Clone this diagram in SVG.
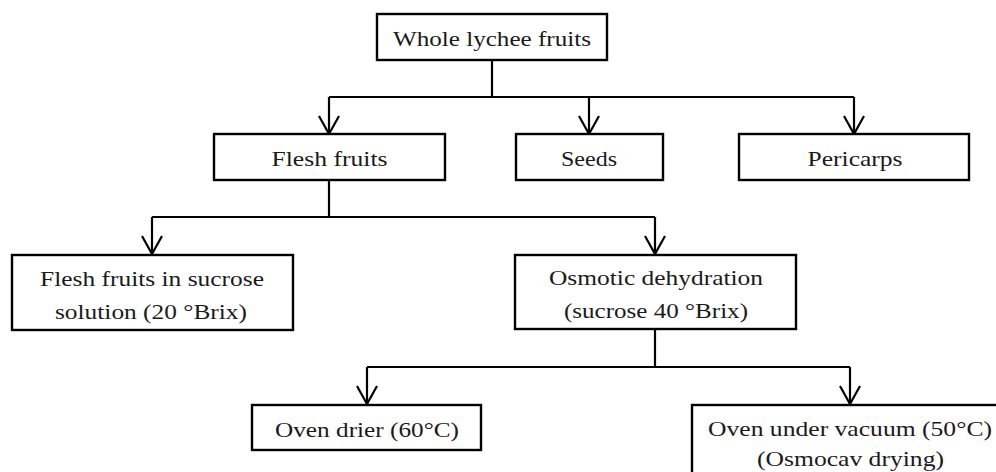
<svg xmlns="http://www.w3.org/2000/svg" width="996" height="472" viewBox="0 0 996 472">
<style>
  .box { fill: #ffffff; stroke: #000000; stroke-width: 2.4; }
  .lbl { font-family: 'Liberation Serif', 'DejaVu Serif', serif; font-size: 22px; fill: #1a1a1a; text-anchor: middle; }
  .con { fill: none; stroke: #000000; stroke-width: 2.2; }
</style>
<defs>
  <marker id="arr" markerUnits="userSpaceOnUse" markerWidth="24" markerHeight="26" refX="20" refY="12" orient="auto" viewBox="0 0 24 26">
    <path d="M2,2 L20,12 L2,22" fill="none" stroke="#000000" stroke-width="2.2"/>
  </marker>
</defs>
<rect width="996" height="472" fill="#ffffff"/>
<g id="connectors">
  <path class="con" d="M492,60 V97 M329,97 H854"/>
  <path class="con" d="M329,97 V134" marker-end="url(#arr)"/>
  <path class="con" d="M589,97 V134" marker-end="url(#arr)"/>
  <path class="con" d="M854,97 V134" marker-end="url(#arr)"/>
  <path class="con" d="M329,180 V217 M152,217 H655"/>
  <path class="con" d="M152,217 V254" marker-end="url(#arr)"/>
  <path class="con" d="M655,217 V254" marker-end="url(#arr)"/>
  <path class="con" d="M655,329 V367 M367,367 H850"/>
  <path class="con" d="M367,367 V404" marker-end="url(#arr)"/>
  <path class="con" d="M850,367 V404" marker-end="url(#arr)"/>
</g>
<g id="node-whole">
  <rect class="box" x="377" y="14" width="230" height="46"/>
  <text class="lbl" x="492" y="46" textLength="198" lengthAdjust="spacingAndGlyphs">Whole lychee fruits</text>
</g>
<g id="node-flesh">
  <rect class="box" x="214" y="134" width="231" height="46"/>
  <text class="lbl" x="329.5" y="166" textLength="116" lengthAdjust="spacingAndGlyphs">Flesh fruits</text>
</g>
<g id="node-seeds">
  <rect class="box" x="516" y="134" width="147" height="46"/>
  <text class="lbl" x="589" y="166" textLength="56" lengthAdjust="spacingAndGlyphs">Seeds</text>
</g>
<g id="node-pericarps">
  <rect class="box" x="739" y="134" width="230" height="46"/>
  <text class="lbl" x="855" y="166" textLength="95" lengthAdjust="spacingAndGlyphs">Pericarps</text>
</g>
<g id="node-sucrose20">
  <rect class="box" x="12" y="255" width="281" height="75"/>
  <text class="lbl" x="152" y="286" textLength="224" lengthAdjust="spacingAndGlyphs">Flesh fruits in sucrose</text>
  <text class="lbl" x="151" y="319" textLength="192" lengthAdjust="spacingAndGlyphs">solution (20 °Brix)</text>
</g>
<g id="node-osmotic">
  <rect class="box" x="515" y="255" width="281" height="74"/>
  <text class="lbl" x="656" y="285" textLength="214" lengthAdjust="spacingAndGlyphs">Osmotic dehydration</text>
  <text class="lbl" x="656" y="318" textLength="184" lengthAdjust="spacingAndGlyphs">(sucrose 40 °Brix)</text>
</g>
<g id="node-oven">
  <rect class="box" x="252" y="405" width="229" height="45"/>
  <text class="lbl" x="367" y="437" textLength="184" lengthAdjust="spacingAndGlyphs">Oven drier (60°C)</text>
</g>
<g id="node-vacuum">
  <rect class="box" x="692" y="405" width="330" height="90"/>
  <text class="lbl" x="850" y="436" textLength="284" lengthAdjust="spacingAndGlyphs">Oven under vacuum (50°C)</text>
  <text class="lbl" x="850.5" y="466" textLength="187" lengthAdjust="spacingAndGlyphs">(Osmocav drying)</text>
</g>
</svg>
